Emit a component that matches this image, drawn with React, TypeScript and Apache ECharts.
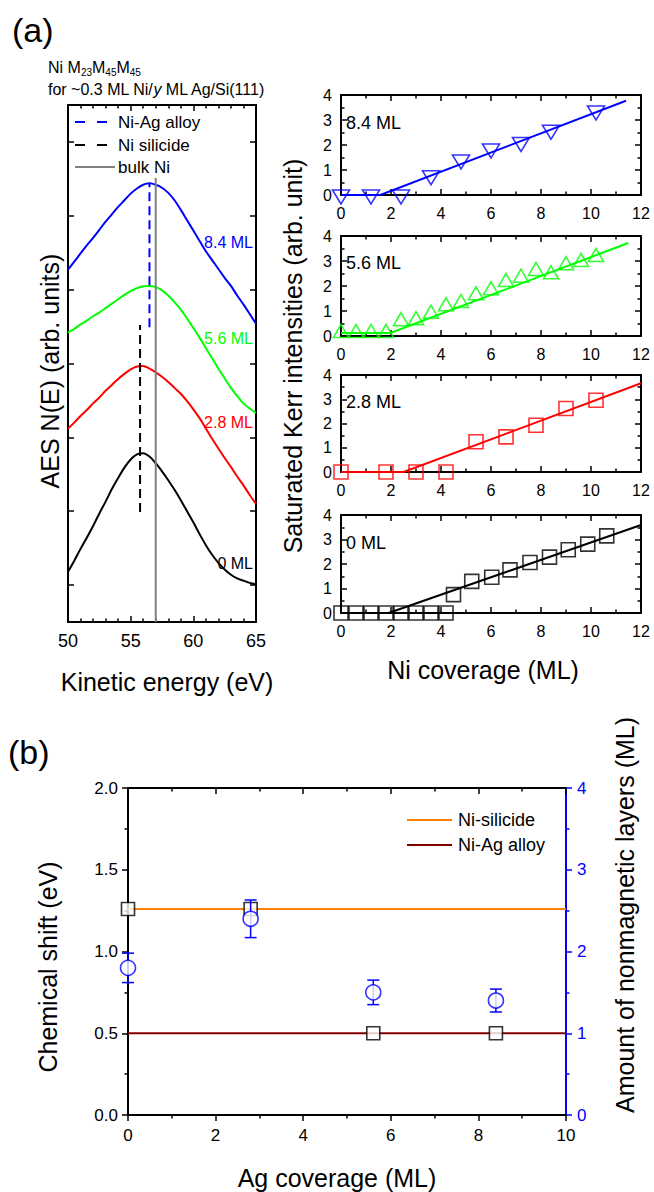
import { useEffect, useRef } from "react";
import * as echarts from "echarts";

const FONT = "'Liberation Sans', Arial, Helvetica, sans-serif";
const BLUE = "#0000FF";
const GREEN = "#00FF00";
const RED = "#FF0000";
const BLACK = "#000000";
const GRAY = "#808080";
const ORANGE = "#FF8000";
const WINE = "#800000";

// ---------- (a) left: AES spectra, Ni M23M45M45 ----------
const aesTickValues = [0.5, 1.5, 2.5, 3.5, 4.5, 5.5, 6.5];
const aesEnergy = [50, 50.5, 51, 51.5, 52, 52.5, 53, 53.5, 54, 54.5, 55, 55.5, 56, 56.5, 57, 57.5, 58, 58.5, 59, 59.5, 60, 60.5, 61, 61.5, 62, 62.5, 63, 63.5, 64, 64.5, 65];
const aes84ML = [4.77, 4.88, 4.99, 5.1, 5.2, 5.31, 5.42, 5.52, 5.62, 5.71, 5.8, 5.87, 5.92, 5.94, 5.92, 5.88, 5.81, 5.71, 5.58, 5.44, 5.3, 5.16, 5.02, 4.9, 4.78, 4.66, 4.55, 4.42, 4.3, 4.17, 4.04];
const aes56ML = [3.92, 3.97, 4.03, 4.08, 4.14, 4.19, 4.25, 4.31, 4.37, 4.43, 4.48, 4.52, 4.545, 4.55, 4.535, 4.49, 4.42, 4.33, 4.23, 4.11, 3.98, 3.85, 3.71, 3.57, 3.43, 3.3, 3.17, 3.06, 2.96, 2.89, 2.83];
const aes28ML = [2.62, 2.7, 2.79, 2.87, 2.96, 3.04, 3.13, 3.21, 3.29, 3.36, 3.42, 3.46, 3.465, 3.43, 3.38, 3.32, 3.25, 3.17, 3.09, 2.99, 2.88, 2.76, 2.62, 2.48, 2.35, 2.22, 2.1, 1.97, 1.85, 1.72, 1.6];
const aes0ML = [0.68, 0.83, 0.99, 1.14, 1.3, 1.47, 1.63, 1.8, 1.95, 2.09, 2.2, 2.27, 2.285, 2.24, 2.15, 2.04, 1.92, 1.79, 1.65, 1.5, 1.35, 1.19, 1.04, 0.91, 0.8, 0.71, 0.64, 0.59, 0.56, 0.53, 0.51];
const alloyMark: [number, number][] = [[56.5, 3.99], [56.5, 5.94]];
const silicideMark: [number, number][] = [[55.75, 1.49], [55.75, 4.02]];
const bulkNiMark: [number, number][] = [[57, 0], [57, 6.01]];

// ---------- (a) right: saturated Kerr intensities ----------
const kerr84X = [0, 1.2, 2.4, 3.6, 4.8, 6.0, 7.2, 8.4, 10.2];
const kerr84Y = [0, 0, 0, 0.77, 1.4, 1.84, 2.1, 2.59, 3.36];
const kerr84Fit: [number, number][] = [[0, 0], [1.57, 0], [11.4, 3.77]];

const kerr56X = [0, 0.6, 1.2, 1.8, 2.4, 3.0, 3.6, 4.2, 4.8, 5.4, 6.0, 6.6, 7.2, 7.8, 8.4, 9.0, 9.6, 10.2];
const kerr56Y = [0, 0, 0, 0, 0.47, 0.51, 0.77, 1.07, 1.2, 1.51, 1.71, 2.04, 2.21, 2.48, 2.35, 2.71, 2.84, 3.04];
const kerr56Fit: [number, number][] = [[0, 0.12], [1.97, 0.12], [11.49, 3.72]];

const kerr28X = [0, 1.8, 3.0, 4.2, 5.4, 6.6, 7.8, 9.0, 10.2];
const kerr28Y = [0, 0, 0, 0, 1.25, 1.45, 1.93, 2.62, 2.96];
const kerr28Fit: [number, number][] = [[0, 0], [2.5, 0], [12, 3.66]];

const kerr0X = [0, 0.6, 1.2, 1.8, 2.4, 3.0, 3.6, 4.2, 4.5, 5.23, 6.03, 6.76, 7.56, 8.34, 9.09, 9.87, 10.63];
const kerr0Y = [0, 0, 0, 0, 0, 0, 0, 0, 0.75, 1.29, 1.46, 1.76, 2.06, 2.28, 2.58, 2.81, 3.15];
const kerr0Fit: [number, number][] = [[0, 0], [1.9, 0], [12, 3.59]];

// ---------- (b) chemical shift & nonmagnetic layers ----------
const agCoverage = [0, 2.8, 5.6, 8.4];
const chemicalShift = [1.26, 1.26, 0.5, 0.5];
const nonmagLayers = [1.8, 2.4, 1.5, 1.4];
const nonmagErr = [0.18, 0.23, 0.15, 0.14];
const silicideLine: [number, number][] = [[0, 1.26], [10, 1.26]];
const alloyLine: [number, number][] = [[0, 0.5], [10, 0.5]];

const zip = (xs: number[], ys: number[]) => xs.map((x, i) => [x, ys[i]]);

type AxOpt = {
  grid: number; pos: string; min: number; max: number; interval?: number; minor?: number;
  labels?: boolean; fontSize?: number; inside?: boolean; margin?: number; color?: string;
  tickValues?: number[]; formatter?: any;
};
function axis(o: AxOpt) {
  const color = o.color ?? BLACK;
  const tick: any = { show: true, inside: o.inside ?? true, length: 6, lineStyle: { color, width: 1.5 } };
  if (o.tickValues) tick.customValues = o.tickValues;
  const label: any = { show: !!o.labels, fontSize: o.fontSize ?? 16, color, margin: o.margin ?? 8, fontFamily: FONT };
  if (o.formatter) label.formatter = o.formatter;
  const a: any = {
    type: "value", gridIndex: o.grid, position: o.pos, min: o.min, max: o.max,
    splitLine: { show: false },
    axisLine: { show: true, onZero: false, lineStyle: { color, width: 2 } },
    axisTick: tick,
    minorTick: { show: !!o.minor, splitNumber: o.minor ?? 5, length: 3.5, lineStyle: { color, width: 1.5 } },
    axisLabel: label,
  };
  if (o.interval !== undefined) a.interval = o.interval;
  return a;
}

function txt(text: string, x: number, y: number, size: number, fill = BLACK, align = "left", rotation = 0): any {
  return {
    type: "text", x, y, rotation, z: 100,
    style: { text, fontSize: size, fontFamily: FONT, fill, align, verticalAlign: "middle" },
  };
}
function seg(x1: number, y1: number, x2: number, y2: number, stroke: string, dash?: number[]): any {
  const style: any = { stroke, lineWidth: 2 };
  if (dash) style.lineDash = dash;
  return { type: "line", z: 100, shape: { x1, y1, x2, y2 }, style };
}

function buildOption(): any {
  const rightPanels = [
    { top: 95, h: 100 }, { top: 236, h: 100 }, { top: 375, h: 97 }, { top: 515, h: 98 },
  ];
  const grid = [
    { left: 68, top: 105, width: 188, height: 517 },
    ...rightPanels.map((p) => ({ left: 341, top: p.top, width: 300, height: p.h })),
    { left: 128, top: 788, width: 438, height: 327 },
  ];

  // grid g uses xAxis 2g (bottom), 2g+1 (top) and yAxis 2g (left), 2g+1 (right)
  const xAxis: any[] = [
    axis({ grid: 0, pos: "bottom", min: 50, max: 65, interval: 5, minor: 5, labels: true, fontSize: 18, margin: 10 }),
    axis({ grid: 0, pos: "top", min: 50, max: 65, interval: 5, minor: 5 }),
  ];
  const yAxis: any[] = [
    axis({ grid: 0, pos: "left", min: 0, max: 7, tickValues: aesTickValues }),
    axis({ grid: 0, pos: "right", min: 0, max: 7, tickValues: aesTickValues }),
  ];
  for (let i = 1; i <= 4; i++) {
    xAxis.push(axis({ grid: i, pos: "bottom", min: 0, max: 12, interval: 2, minor: 2, labels: true, fontSize: 16, margin: 10 }));
    xAxis.push(axis({ grid: i, pos: "top", min: 0, max: 12, interval: 2, minor: 2 }));
    yAxis.push(axis({ grid: i, pos: "left", min: 0, max: 4, interval: 1, minor: 2, labels: true, fontSize: 16, margin: 9 }));
    yAxis.push(axis({ grid: i, pos: "right", min: 0, max: 4, interval: 1, minor: 2 }));
  }
  xAxis.push(axis({ grid: 5, pos: "bottom", min: 0, max: 10, interval: 2, minor: 2, labels: true, fontSize: 17, margin: 12, inside: false }));
  xAxis.push(axis({ grid: 5, pos: "top", min: 0, max: 10, interval: 2, minor: 2 }));
  yAxis.push(axis({ grid: 5, pos: "left", min: 0, max: 2, interval: 0.5, minor: 2, labels: true, fontSize: 17, margin: 10, inside: false, formatter: (v: number) => v.toFixed(1) }));
  yAxis.push(axis({ grid: 5, pos: "right", min: 0, max: 4, interval: 1, minor: 2, labels: true, fontSize: 17, margin: 11, inside: false, color: BLUE }));

  const curve = (name: string, ys: number[], color: string) => ({
    name, type: "line", xAxisIndex: 0, yAxisIndex: 0, data: zip(aesEnergy, ys), smooth: 0.3, showSymbol: false,
    lineStyle: { color, width: 2 }, itemStyle: { color }, silent: true,
  });
  const mark = (name: string, data: any, color: string, dashed: boolean) => ({
    name, type: "line", xAxisIndex: 0, yAxisIndex: 0, data, showSymbol: false, silent: true,
    lineStyle: { color, width: 2, type: dashed ? [9, 5] : "solid" }, itemStyle: { color },
  });
  const fit = (name: string, g: number, data: any, color: string) => ({
    name, type: "line", xAxisIndex: 2 * g, yAxisIndex: 2 * g, data, showSymbol: false, silent: true,
    lineStyle: { color, width: 2 }, itemStyle: { color }, z: 2,
  });
  const pts = (name: string, g: number, data: any, color: string, symbol: string, size: any, rotate = 0, offset = [0, 0]) => ({
    name, type: "scatter", xAxisIndex: 2 * g, yAxisIndex: 2 * g, data, symbol, symbolSize: size,
    symbolRotate: rotate, symbolOffset: offset, silent: true, z: 3,
    itemStyle: { color: "rgba(0,0,0,0)", borderColor: color, borderWidth: 1.6 },
  });

  const series: any[] = [
    curve("8.4 ML", aes84ML, BLUE),
    curve("5.6 ML", aes56ML, GREEN),
    curve("2.8 ML", aes28ML, RED),
    curve("0 ML", aes0ML, BLACK),
    mark("Ni-Ag alloy", alloyMark, BLUE, true),
    mark("Ni silicide", silicideMark, BLACK, true),
    mark("bulk Ni", bulkNiMark, GRAY, false),

    fit("8.4 ML fit", 1, kerr84Fit, BLUE),
    pts("8.4 ML Kerr", 1, zip(kerr84X, kerr84Y), BLUE, "triangle", [17, 14], 180, [0, 2]),
    fit("5.6 ML fit", 2, kerr56Fit, GREEN),
    pts("5.6 ML Kerr", 2, zip(kerr56X, kerr56Y), GREEN, "triangle", [15, 13], 0, [0, -5]),
    fit("2.8 ML fit", 3, kerr28Fit, RED),
    pts("2.8 ML Kerr", 3, zip(kerr28X, kerr28Y), RED, "rect", 14),
    fit("0 ML fit", 4, kerr0Fit, BLACK),
    pts("0 ML Kerr", 4, zip(kerr0X, kerr0Y), BLACK, "rect", 14),

    {
      name: "Ni-silicide", type: "line", xAxisIndex: 10, yAxisIndex: 10, data: silicideLine, showSymbol: false, silent: true,
      lineStyle: { color: ORANGE, width: 2 }, itemStyle: { color: ORANGE }, z: 2,
    },
    {
      name: "Ni-Ag alloy", type: "line", xAxisIndex: 10, yAxisIndex: 10, data: alloyLine, showSymbol: false, silent: true,
      lineStyle: { color: WINE, width: 2 }, itemStyle: { color: WINE }, z: 2,
    },
    {
      name: "Chemical shift", type: "scatter", xAxisIndex: 10, yAxisIndex: 10, data: zip(agCoverage, chemicalShift),
      symbol: "rect", symbolSize: 13, silent: true, z: 3,
      itemStyle: { color: "#ffffff", borderColor: BLACK, borderWidth: 1.6 },
    },
    {
      name: "Error", type: "custom", xAxisIndex: 10, yAxisIndex: 11, silent: true, z: 4,
      data: agCoverage.map((x, i) => [x, nonmagLayers[i], nonmagErr[i]]),
      encode: { x: 0, y: 1 },
      renderItem: (_p: any, api: any) => {
        const x = api.value(0), y = api.value(1), e = api.value(2);
        const a = api.coord([x, y + e]);
        const b = api.coord([x, y - e]);
        const w = 6;
        const style = { stroke: BLUE, lineWidth: 1.5 };
        return {
          type: "group",
          children: [
            { type: "line", shape: { x1: a[0], y1: a[1], x2: b[0], y2: b[1] }, style },
            { type: "line", shape: { x1: a[0] - w, y1: a[1], x2: a[0] + w, y2: a[1] }, style },
            { type: "line", shape: { x1: b[0] - w, y1: b[1], x2: b[0] + w, y2: b[1] }, style },
          ],
        };
      },
    },
    {
      name: "Nonmagnetic layers", type: "scatter", xAxisIndex: 10, yAxisIndex: 11, data: zip(agCoverage, nonmagLayers),
      symbol: "circle", symbolSize: 15, silent: true, z: 5,
      itemStyle: { color: "#ffffff", borderColor: BLUE, borderWidth: 1.6 },
    },
  ];

  const title1 = {
    type: "text", x: 48, y: 67, z: 100,
    style: {
      text: "Ni M{s|23}M{s|45}M{s|45}", fontSize: 16, fontFamily: FONT, fill: BLACK, lineHeight: 20,
      align: "left", verticalAlign: "middle",
      rich: { s: { fontSize: 10, fontFamily: FONT, fill: BLACK, lineHeight: 10, verticalAlign: "bottom" } },
    },
  };
  const title2 = {
    type: "text", x: 48, y: 89, z: 100,
    style: {
      text: "for ~0.3 ML Ni/{i|y} ML Ag/Si(111)", fontSize: 16, fontFamily: FONT, fill: BLACK,
      align: "left", verticalAlign: "middle",
      rich: { i: { fontSize: 16, fontFamily: FONT, fontStyle: "italic", fill: BLACK } },
    },
  };

  const graphic: any[] = [
    txt("(a)", 12, 30, 34),
    txt("(b)", 8, 752, 34),
    title1,
    title2,
    seg(75, 122, 108, 122, BLUE, [10, 12]),
    txt("Ni-Ag alloy", 118, 122, 17),
    seg(75, 145, 108, 145, BLACK, [10, 12]),
    txt("Ni silicide", 118, 145, 17),
    seg(75, 167, 115, 167, GRAY),
    txt("bulk Ni", 118, 167, 17),
    txt("8.4 ML", 253, 242, 16, BLUE, "right"),
    txt("5.6 ML", 253, 338, 16, GREEN, "right"),
    txt("2.8 ML", 253, 422, 16, RED, "right"),
    txt("0 ML", 253, 563, 16, BLACK, "right"),
    txt("8.4 ML", 346, 123, 18),
    txt("5.6 ML", 346, 263, 18),
    txt("2.8 ML", 346, 402, 18),
    txt("0 ML", 346, 543, 18),
    txt("AES N(E) (arb. units)", 50, 371, 25, BLACK, "center", Math.PI / 2),
    txt("Kinetic energy (eV)", 167, 682, 25, BLACK, "center"),
    txt("Saturated Kerr intensities (arb. unit)", 293, 356, 25, BLACK, "center", Math.PI / 2),
    txt("Ni coverage (ML)", 483, 670, 25, BLACK, "center"),
    txt("Chemical shift (eV)", 48, 967, 25, BLACK, "center", Math.PI / 2),
    txt("Amount of nonmagnetic layers (ML)", 625, 915, 25, BLACK, "center", Math.PI / 2),
    txt("Ag coverage (ML)", 337, 1178, 25, BLACK, "center"),
    seg(407, 820, 452, 820, ORANGE),
    txt("Ni-silicide", 458, 820, 18),
    seg(407, 845, 452, 845, WINE),
    txt("Ni-Ag alloy", 458, 845, 18),
  ];

  return {
    animation: false,
    backgroundColor: "#ffffff",
    textStyle: { fontFamily: FONT },
    grid,
    xAxis,
    yAxis,
    series,
    graphic,
  };
}

export default function App() {
  const ref = useRef<HTMLDivElement>(null);
  useEffect(() => {
    if (!ref.current) return;
    const chart = echarts.init(ref.current, undefined, { renderer: "svg" });
    chart.setOption(buildOption());
    return () => chart.dispose();
  }, []);
  return (
    <div
      ref={ref}
      style={{ position: "absolute", left: 0, top: 0, width: 654, height: 1192, background: "#fff" }}
    />
  );
}
